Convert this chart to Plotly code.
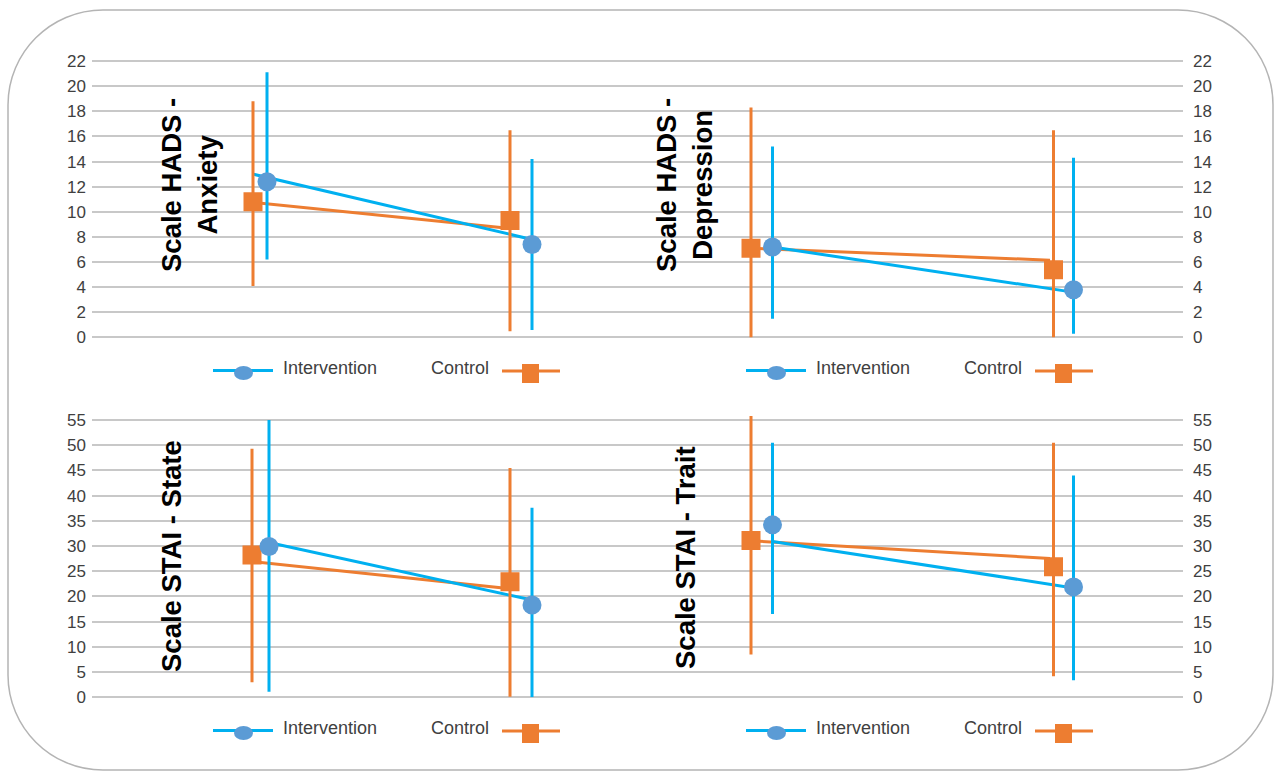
import plotly.graph_objects as go

# ---------------- DATA ----------------
scales = ["HADS - Anxiety", "HADS - Depression", "STAI - State", "STAI - Trait"]
titles = ["Scale HADS -<br>Anxiety", "Scale HADS -<br>Depression",
          "Scale STAI - State", "Scale STAI - Trait"]
groups = ["Intervention", "Control"]
timepoints = ["Pre", "Post"]

# values per scale: [pre, post]
intervention_mean = [[12.4, 7.4], [7.2, 3.8], [29.9, 18.3], [34.2, 21.9]]
intervention_low = [[6.2, 0.6], [1.5, 0.3], [1.1, 0.0], [16.5, 3.4]]
intervention_high = [[21.1, 14.2], [15.2, 14.3], [55.0, 37.6], [50.5, 44.0]]
control_mean = [[10.8, 9.3], [7.1, 5.4], [28.2, 22.9], [31.1, 25.9]]
control_low = [[4.1, 0.5], [0.0, 0.0], [3.0, 0.1], [8.5, 4.2]]
control_high = [[18.8, 16.5], [18.3, 16.5], [49.3, 45.5], [55.8, 50.5]]
# fitted trend lines: [start, end]
intervention_trend = [[13.0, 7.8], [7.2, 3.65], [31.0, 19.3], [30.9, 21.6]]
control_trend = [[10.75, 8.7], [7.1, 6.15], [26.9, 21.6], [31.05, 27.55]]

y_ticks_top = list(range(0, 23, 2))
y_ticks_bottom = list(range(0, 56, 5))

# ---------------- LAYOUT CONSTANTS ----------------
W, H = 1280, 771
BLUE = "#00B0F0"
BLUE_MK = "#5B9BD5"
ORANGE = "#ED7D31"
GRID = "#C8C8C8"
TXT = "#404040"
FONT = "Arial, Liberation Sans, sans-serif"

# x positions inside each panel (panel width 545.5 units)
# [control pre, intervention pre, control post, intervention post]
pos = [[161, 175, 418, 440], [113.5, 135, 416, 436],
       [160, 177, 418, 440], [113.5, 135, 416, 436]]
# trend x: [int start, int end, ctrl start, ctrl end]
tpos = [[161, 440, 161, 416], [135, 432, 113.5, 412.5],
        [170, 440, 161, 416], [135, 439, 113.5, 412.5]]


def px(x):
    return x / W


def py(y):
    return 1 - y / H


xdom = [[px(92), px(637.5)], [px(637.5), px(1183)]]
top_unit = (337.5 - 61) / 22
bot_unit = (697.3 - 420) / 55
top_range = [0, 22.3]
bot_range = [0, 56.5]
ydom_top = [py(337.5), py(337.5 - top_range[1] * top_unit)]
ydom_bot = [py(697.3), py(697.3 - bot_range[1] * bot_unit)]

fig = go.Figure()

for i in range(4):
    ax = "" if i == 0 else str(i + 1)
    xa, ya = "x" + ax, "y" + ax
    p, t = pos[i], tpos[i]
    # trend lines
    fig.add_trace(go.Scatter(x=[t[2], t[3]], y=control_trend[i], mode="lines",
                             line=dict(color=ORANGE, width=3), xaxis=xa, yaxis=ya,
                             showlegend=False, hoverinfo="skip"))
    fig.add_trace(go.Scatter(x=[t[0], t[1]], y=intervention_trend[i], mode="lines",
                             line=dict(color=BLUE, width=3), xaxis=xa, yaxis=ya,
                             showlegend=False, hoverinfo="skip"))
    # control points
    cm = control_mean[i]
    fig.add_trace(go.Scatter(
        x=[p[0], p[2]], y=cm, mode="markers", name="Control",
        marker=dict(symbol="square", size=19, color=ORANGE),
        error_y=dict(type="data", symmetric=False,
                     array=[control_high[i][k] - cm[k] for k in range(2)],
                     arrayminus=[cm[k] - control_low[i][k] for k in range(2)],
                     color=ORANGE, thickness=3, width=0),
        xaxis=xa, yaxis=ya, showlegend=False, text=timepoints))
    im = intervention_mean[i]
    fig.add_trace(go.Scatter(
        x=[p[1], p[3]], y=im, mode="markers", name="Intervention",
        marker=dict(symbol="circle", size=19, color=BLUE_MK),
        error_y=dict(type="data", symmetric=False,
                     array=[intervention_high[i][k] - im[k] for k in range(2)],
                     arrayminus=[im[k] - intervention_low[i][k] for k in range(2)],
                     color=BLUE, thickness=3, width=0),
        xaxis=xa, yaxis=ya, showlegend=False, text=timepoints))

layout = dict(width=W, height=H, margin=dict(l=0, r=0, t=0, b=0, autoexpand=False),
              paper_bgcolor="white", plot_bgcolor="rgba(0,0,0,0)",
              showlegend=False, font=dict(family=FONT, color=TXT))

for i in range(4):
    ax = "" if i == 0 else str(i + 1)
    col = i % 2
    row = i // 2
    layout["xaxis" + ax] = dict(domain=xdom[col], range=[0, 545.5], visible=False,
                                anchor="y" + ax, fixedrange=True, automargin=False)
    ticks = y_ticks_top if row == 0 else y_ticks_bottom
    layout["yaxis" + ax] = dict(
        domain=ydom_top if row == 0 else ydom_bot,
        range=top_range if row == 0 else bot_range,
        anchor="x" + ax, side="left" if col == 0 else "right",
        tickvals=ticks, ticktext=[str(v) for v in ticks],
        showticklabels=True, ticks="", showgrid=True, gridcolor=GRID, gridwidth=1.5,
        zeroline=True, zerolinecolor=GRID, zerolinewidth=1.5, showline=False,
        tickfont=dict(family=FONT, size=17, color=TXT), automargin=False,
        ticklabelstandoff=5 if col == 0 else 9, fixedrange=True)

fig.update_layout(**layout)

# axis titles inside plot area
title_pos = [(189, 185), (684, 185), (171, 556), (685, 558)]
for i in range(4):
    fig.add_annotation(text=titles[i], x=px(title_pos[i][0]), y=py(title_pos[i][1]),
                       xref="paper", yref="paper", showarrow=False, textangle=-90,
                       xanchor="center", yanchor="middle", align="center",
                       font=dict(family=FONT, size=27.5, color="black", weight="bold"))

# legends (drawn per panel)
shapes = []
for i in range(4):
    dx = 0 if i % 2 == 0 else 533
    dy = 0 if i < 2 else 360
    # intervention entry
    shapes.append(dict(type="line", xref="paper", yref="paper",
                       x0=px(213 + dx), x1=px(273 + dx), y0=py(370.5 + dy), y1=py(370.5 + dy),
                       line=dict(color=BLUE, width=3)))
    shapes.append(dict(type="circle", xref="paper", yref="paper",
                       x0=px(234 + dx), x1=px(253 + dx), y0=py(366 + dy), y1=py(380 + dy),
                       fillcolor=BLUE_MK, line=dict(width=0)))
    fig.add_annotation(text=groups[0], x=px(281 + dx), y=py(368 + dy), xref="paper", yref="paper",
                       showarrow=False, xanchor="left", yanchor="middle",
                       font=dict(family=FONT, size=18, color=TXT))
    # control entry
    fig.add_annotation(text=groups[1], x=px(429 + dx), y=py(368 + dy), xref="paper", yref="paper",
                       showarrow=False, xanchor="left", yanchor="middle",
                       font=dict(family=FONT, size=18, color=TXT))
    shapes.append(dict(type="line", xref="paper", yref="paper",
                       x0=px(502 + dx), x1=px(560 + dx), y0=py(371 + dy), y1=py(371 + dy),
                       line=dict(color=ORANGE, width=3)))
    shapes.append(dict(type="rect", xref="paper", yref="paper",
                       x0=px(522 + dx), x1=px(539 + dx), y0=py(364 + dy), y1=py(383 + dy),
                       fillcolor=ORANGE, line=dict(width=0)))

# rounded outer border
x0, x1, y0, y1, r = 8, 1273, 10, 770, 95
k = 0.5523 * r


def P(x, y):
    return f"{px(x):.5f},{py(y):.5f}"


path = (f"M {P(x0 + r, y0)} L {P(x1 - r, y0)} "
        f"C {P(x1 - r + k, y0)} {P(x1, y0 + r - k)} {P(x1, y0 + r)} "
        f"L {P(x1, y1 - r)} "
        f"C {P(x1, y1 - r + k)} {P(x1 - r + k, y1)} {P(x1 - r, y1)} "
        f"L {P(x0 + r, y1)} "
        f"C {P(x0 + r - k, y1)} {P(x0, y1 - r + k)} {P(x0, y1 - r)} "
        f"L {P(x0, y0 + r)} "
        f"C {P(x0, y0 + r - k)} {P(x0 + r - k, y0)} {P(x0 + r, y0)} Z")
shapes.append(dict(type="path", xref="paper", yref="paper", path=path,
                   line=dict(color="#B4B4B4", width=1.5), layer="below"))

fig.update_layout(shapes=shapes)
fig.write_html("out.html", config={"displayModeBar": False},
               post_script="document.body.style.margin='0';"
                           "document.body.style.overflow='hidden';")
